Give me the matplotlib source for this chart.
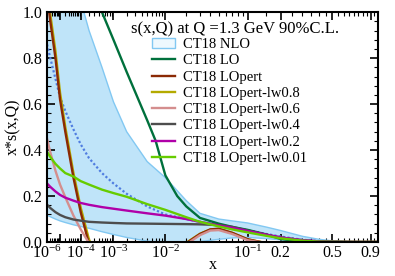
import numpy as np
import matplotlib
matplotlib.use('Agg')
import matplotlib.pyplot as plt
from matplotlib.patches import Patch
from matplotlib.lines import Line2D

plt.rcParams['font.family'] = ['Liberation Serif', 'DejaVu Serif']
plt.rcParams['mathtext.fontset'] = 'custom'
plt.rcParams['mathtext.rm'] = 'Liberation Serif'

# CT18 NLO band (90% C.L.) and central value
x_band = [1e-6, 2e-6, 5e-6, 1e-5, 2e-5, 5e-5, 1e-4, 2e-4, 5e-4, 1e-3, 2e-3, 5e-3,
          1e-2, 2e-2, 3e-2, 5e-2, 7e-2, 0.1, 0.15, 0.2, 0.3, 0.4, 0.5, 0.6, 0.7, 0.8, 0.9, 1.0]
nlo_upper = [3.0, 2.5, 1.9, 1.6, 1.4, 1.15, 1.05, 0.92, 0.76, 0.61, 0.48, 0.35,
             0.28, 0.18, 0.125, 0.10, 0.092, 0.083, 0.065, 0.05, 0.025, 0.012, 0.005, 0.002, 0.001, 0.0005, 0.0002, 0.0]
nlo_lower = [0.117, 0.11, 0.10, 0.092, 0.085, 0.075, 0.068, 0.06, 0.045, 0.033, 0.02, 0.004,
             -0.005, -0.005, 0.002, 0.012, 0.018, 0.02, 0.015, 0.01, 0.004, 0.001, 0.0, 0.0, 0.0, 0.0, 0.0, 0.0]
nlo_central = [0.86, 0.80, 0.71, 0.63, 0.57, 0.49, 0.425, 0.365, 0.30, 0.255, 0.21, 0.155,
               0.12, 0.10, 0.088, 0.074, 0.063, 0.052, 0.035, 0.024, 0.01, 0.004, 0.0015, 0.0005, 0.0002, 0.0001, 0.0, 0.0]

# CT18 LO
x_lo = [3e-4, 5e-4, 1e-3, 2e-3, 5e-3, 7e-3, 1e-2, 1.5e-2, 2e-2, 3e-2, 5e-2, 7e-2, 0.1, 0.15, 0.2, 0.3, 0.4, 0.5, 0.7, 1.0]
lo = [1.08, 1.0, 0.88, 0.74, 0.53, 0.44, 0.29, 0.20, 0.155, 0.105, 0.08, 0.066, 0.053, 0.033, 0.013, 0.002, 0.0, 0.0, 0.0, 0.0]

# CT18 LOpert family
x_pert = [1e-6, 2e-6, 5e-6, 1e-5, 2e-5, 5e-5, 1e-4, 2e-4, 5e-4, 1e-3, 5e-3, 1e-2,
          2e-2, 3e-2, 4e-2, 5e-2, 7e-2, 0.1, 0.15, 0.2, 0.3, 0.5, 1.0]
lopert = [1.08, 0.96, 0.80, 0.62, 0.48, 0.28, 0.13, -0.01, -0.1, -0.15, -0.15, -0.1,
          -0.005, 0.035, 0.055, 0.058, 0.04, 0.012, -0.005, -0.005, -0.002, 0.0, 0.0]
lopert_08 = [1.11, 0.99, 0.83, 0.65, 0.50, 0.30, 0.15, 0.01, -0.1, -0.15, -0.15, -0.1,
             -0.003, 0.036, 0.055, 0.057, 0.04, 0.012, -0.005, -0.005, -0.002, 0.0, 0.0]
lopert_06 = [0.45, 0.39, 0.31, 0.25, 0.195, 0.115, 0.055, -0.005, -0.05, -0.08, -0.1, -0.06,
             -0.01, 0.03, 0.05, 0.052, 0.035, 0.008, -0.005, -0.005, -0.002, 0.0, 0.0]

x_lw = [1e-6, 2e-6, 5e-6, 1e-5, 2e-5, 5e-5, 1e-4, 2e-4, 5e-4, 1e-3, 2e-3, 5e-3,
        1e-2, 2e-2, 3e-2, 5e-2, 7e-2, 0.1, 0.15, 0.2, 0.3, 0.4, 0.5, 0.7, 1.0]
lopert_04 = [0.163, 0.148, 0.13, 0.118, 0.108, 0.098, 0.093, 0.088, 0.085, 0.083, 0.081, 0.08,
             0.079, 0.078, 0.077, 0.074, 0.066, 0.05, 0.032, 0.02, 0.008, 0.003, 0.001, 0.0, 0.0]
lopert_02 = [0.255, 0.24, 0.22, 0.205, 0.193, 0.18, 0.17, 0.162, 0.152, 0.145, 0.137, 0.125,
             0.115, 0.10, 0.088, 0.072, 0.062, 0.048, 0.032, 0.02, 0.008, 0.003, 0.001, 0.0, 0.0]
lopert_001 = [0.393, 0.37, 0.34, 0.32, 0.30, 0.285, 0.265, 0.25, 0.228, 0.213, 0.197, 0.165,
              0.14, 0.108, 0.088, 0.068, 0.055, 0.042, 0.027, 0.016, 0.006, 0.002, 0.001, 0.0, 0.0]

xtick_vals = [1e-6, 1e-5, 1e-4, 1e-3, 1e-2, 0.1, 0.2, 0.5, 0.9]
xtick_labels = [r'$\mathregular{10^{-6}}$', '', r'$\mathregular{10^{-4}}$', r'$\mathregular{10^{-3}}$',
                r'$\mathregular{10^{-2}}$', r'$\mathregular{10^{-1}}$', '0.2', '0.5', '0.9']

fig = plt.figure(figsize=(3.95, 2.76), dpi=100)
ax = fig.add_axes([0.119, 0.123, 0.838, 0.833])
ax.set_xscale('function', functions=(lambda v: np.abs(v) ** 0.2, lambda v: np.abs(v) ** 5))

band_fill = '#bfe4f9'
band_edge = '#82c8f2'
ax.fill_between(x_band, nlo_lower, nlo_upper, color=band_fill, lw=0)
ax.plot(x_band, nlo_upper, color=band_edge, lw=1.0)
ax.plot(x_band, nlo_lower, color=band_edge, lw=1.0)
ax.plot(x_band, nlo_central, color='#4f7de0', lw=1.6, ls=(0, (1, 1)))

c_lo = '#00703c'
c_pert = '#8b2a05'
c_08 = '#b4aa00'
c_06 = '#d48e8e'
c_04 = '#4d4d4d'
c_02 = '#b000a8'
c_001 = '#66cc00'
lw = 1.7
ax.plot(x_lo, lo, color=c_lo, lw=lw)
ax.plot(x_pert, lopert_08, color=c_08, lw=lw)
ax.plot(x_pert, lopert, color=c_pert, lw=lw)
ax.plot(x_pert, lopert_06, color=c_06, lw=lw)
ax.plot(x_lw, lopert_04, color=c_04, lw=lw)
ax.plot(x_lw, lopert_02, color=c_02, lw=lw)
ax.plot(x_lw, lopert_001, color=c_001, lw=lw)

ax.set_xlim(1e-6, 1.0)
ax.set_ylim(0, 1.0)
ax.set_xticks(xtick_vals)
ax.set_xticklabels(xtick_labels)
minor_x = [m * 10.0 ** k for k in range(-6, -1) for m in range(2, 10)]
minor_x += [0.15, 0.25, 0.3, 0.35, 0.4, 0.45, 0.55, 0.6, 0.65, 0.7, 0.75, 0.8, 0.85, 0.95]
ax.set_xticks(minor_x, minor=True)
ax.set_yticks([0.0, 0.2, 0.4, 0.6, 0.8, 1.0])
ax.set_yticks(np.arange(0, 1.0001, 0.04), minor=True)
ax.yaxis.set_major_formatter(matplotlib.ticker.FormatStrFormatter('%.1f'))
ax.tick_params(which='both', direction='in', top=True, right=True, labelsize=11.5)
ax.tick_params(axis='x', which='major', pad=2)
ax.tick_params(which='major', length=6, width=1.2)
ax.tick_params(which='minor', length=3, width=0.8)
for s in ax.spines.values():
    s.set_linewidth(1.5)

ax.set_xlabel('x', fontsize=11.5, labelpad=-4)
ax.set_ylabel('x*s(x,Q)', fontsize=11.5, labelpad=1)

ax.text(0.254, 0.926, 's(x,Q) at Q =1.3 GeV 90%C.L.', transform=ax.transAxes,
        fontsize=12, va='center', ha='left')

handles = [Patch(facecolor='#eef8fe', edgecolor=band_edge, lw=1.0),
           Line2D([], [], color=c_lo, lw=lw),
           Line2D([], [], color=c_pert, lw=lw),
           Line2D([], [], color=c_08, lw=lw),
           Line2D([], [], color=c_06, lw=lw),
           Line2D([], [], color=c_04, lw=lw),
           Line2D([], [], color=c_02, lw=lw),
           Line2D([], [], color=c_001, lw=lw)]
labels = ['CT18 NLO', 'CT18 LO', 'CT18 LOpert', 'CT18 LOpert-lw0.8', 'CT18 LOpert-lw0.6',
          'CT18 LOpert-lw0.4', 'CT18 LOpert-lw0.2', 'CT18 LOpert-lw0.01']
ax.legend(handles, labels, loc='upper left', bbox_to_anchor=(0.317, 0.888), frameon=False,
          fontsize=10.5, borderpad=0, borderaxespad=0, handlelength=1.6, handletextpad=0.5,
          labelspacing=0.21)

fig.savefig('out.png', dpi=100)
